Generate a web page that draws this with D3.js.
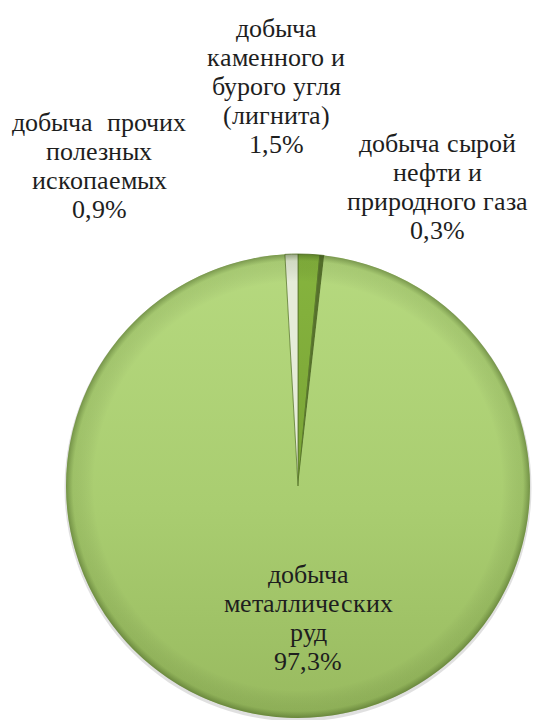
<!DOCTYPE html>
<html lang="ru">
<head>
<meta charset="utf-8">
<script src="https://cdn.jsdelivr.net/npm/d3@7"></script>
<style>
  @font-face {
    font-family: 'ChartSerif';
    src: local('Liberation Serif'), local('LiberationSerif'), local('Tinos'), local('Times New Roman');
  }
</style>
</head>
<body style="margin:0;background:#fff">
<svg width="534" height="720" style="font-family: ChartSerif, 'Liberation Serif', serif"></svg>
<script>
// data, in the order the slices run clockwise from 12 o'clock
const categories = ['coal', 'oil', 'metal', 'other'];
const shares = [1.5, 0.3, 97.3, 0.9];
const labels = [
  ['добыча', 'каменного и', 'бурого угля', '(лигнита)', '1,5%'],
  ['добыча сырой', 'нефти и', 'природного газа', '0,3%'],
  ['добыча', 'металлических', 'руд', '97,3%'],
  ['добыча  прочих', 'полезных', 'ископаемых', '0,9%']
];

// layout
const svg = d3.select('svg'),
      cx = 298, cy = 486, r = 232,
      lineH = 29,
      serif = "ChartSerif, 'Liberation Serif', 'Times New Roman', Tinos, serif";
// label anchors relative to the pie centre (centre x, first baseline)
const labelPos = {
  coal:  [-22, -449],
  oil:   [139, -334],
  metal: [10, 97],
  other: [-199, -355]
};
const fills = {
  coal: 'url(#gCoal)',
  oil: '#56702c',
  metal: 'url(#gMain)',
  other: '#e6ecd9'
};

const defs = svg.append('defs');
const gMain = defs.append('linearGradient').attr('id', 'gMain')
  .attr('x1', 0).attr('y1', 0).attr('x2', 0).attr('y2', 1);
gMain.append('stop').attr('offset', '0%').attr('stop-color', '#b6d97f');
gMain.append('stop').attr('offset', '55%').attr('stop-color', '#a9cd70');
gMain.append('stop').attr('offset', '100%').attr('stop-color', '#98ba5f');

const gCoal = defs.append('linearGradient').attr('id', 'gCoal')
  .attr('x1', 0).attr('y1', 0).attr('x2', 0).attr('y2', 1);
gCoal.append('stop').attr('offset', '0%').attr('stop-color', '#86b43e');
gCoal.append('stop').attr('offset', '100%').attr('stop-color', '#7aa436');

// bevel: darker towards the rim
const gRim = defs.append('radialGradient').attr('id', 'gRim');
gRim.append('stop').attr('offset', '88%').attr('stop-color', '#000').attr('stop-opacity', 0);
gRim.append('stop').attr('offset', '97%').attr('stop-color', '#3d5a1a').attr('stop-opacity', 0.12);
gRim.append('stop').attr('offset', '100%').attr('stop-color', '#2f4712').attr('stop-opacity', 0.45);

const pie = d3.pie().sort(null).value((d, i) => shares[i]);
const arcs = pie(categories);
const arc = d3.arc().innerRadius(0).outerRadius(r);

const g = svg.append('g').attr('transform', `translate(${cx},${cy})`);

// soft shadow under the pie
g.append('circle').attr('cy', 2).attr('r', r + 1.5).attr('fill', '#000').attr('opacity', 0.12);

g.append('g')
  .selectAll('path')
  .data(arcs)
  .join('path')
  .attr('d', arc)
  .attr('fill', d => fills[d.data])
  .attr('stroke', d => d.data === 'metal' ? 'none' : '#5b7a2b')
  .attr('stroke-width', 0.8);

g.append('circle').attr('r', r).attr('fill', 'url(#gRim)');

// labels
arcs.forEach((d, i) => {
  const [lx, ly] = labelPos[d.data];
  const t = svg.append('text')
    .attr('x', cx + lx).attr('y', cy + ly)
    .attr('text-anchor', 'middle')
    .style('font-family', serif)
    .style('font-size', '26px')
    .style('fill', '#1e1e1e');
  labels[i].forEach((line, j) => {
    t.append('tspan')
      .attr('x', cx + lx)
      .attr('y', cy + ly + j * lineH)
      .style('white-space', 'pre')
      .text(line);
  });
});
</script>
</body>
</html>
